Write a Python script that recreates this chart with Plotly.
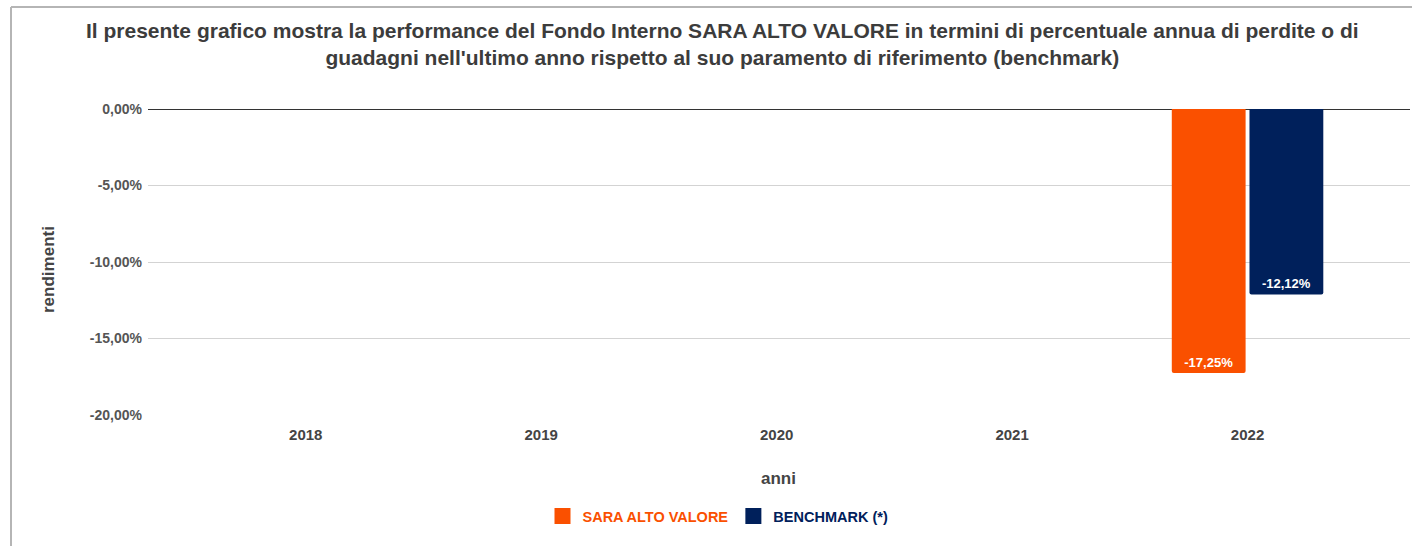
import plotly.graph_objects as go

years = ["2018", "2019", "2020", "2021", "2022"]
fund_values = [None, None, None, None, -0.1725]
bench_values = [None, None, None, None, -0.1212]
fund_name = "SARA ALTO VALORE"
bench_name = "BENCHMARK (*)"
y_tickvals = [0, -0.05, -0.10, -0.15, -0.20]
y_ticktext = ["0,00%", "-5,00%", "-10,00%", "-15,00%", "-20,00%"]

ORANGE = "#FA5000"
NAVY = "#00205B"
FONT = "Liberation Sans, Arial, sans-serif"

def fmt(v):
    if v is None:
        return ""
    return f"{v*100:.2f}%".replace(".", ",")

W, H = 1412, 546
L, R, T, B = 148, 2, 109, 131
pw, ph = W - L - R, H - T - B

def px(x):
    return (x - L) / pw

def py(y):
    return (H - B - y) / ph

fig = go.Figure()
for name, vals, col in [(fund_name, fund_values, ORANGE), (bench_name, bench_values, NAVY)]:
    fig.add_trace(go.Bar(
        x=years, y=vals, name=name, showlegend=False,
        marker=dict(color=col, line=dict(width=0)),
        text=[fmt(v) for v in vals], textposition="inside", insidetextanchor="end",
        textfont=dict(color="white", size=13, family=FONT), texttemplate="<b>%{text}</b>",
        constraintext="none", hoverinfo="skip",
    ))
# legend entries (square swatches, coloured labels)
for name, col in [(fund_name, ORANGE), (bench_name, NAVY)]:
    fig.add_trace(go.Scatter(
        x=[None], y=[None], mode="markers",
        name=f"<b><span style='color:{col}'>{name}</span></b>",
        marker=dict(symbol="square", size=16, color=col), hoverinfo="skip",
    ))

fig.update_layout(
    width=W, height=H,
    margin=dict(l=L, r=R, t=T, b=B, autoexpand=False),
    paper_bgcolor="white", plot_bgcolor="white",
    font=dict(family=FONT, color="#555555"),
    barmode="group", bargap=0.34, bargroupgap=0.05, barcornerradius=2,
    showlegend=True,
    legend=dict(orientation="h", x=px(718), xanchor="center", y=py(516), yanchor="middle",
                font=dict(size=14.5, family=FONT), itemsizing="trace",
                traceorder="normal", itemwidth=30),
    xaxis=dict(type="category", range=[-0.67, 4.69], showgrid=False, showline=False,
               ticks="", tickfont=dict(size=15, color="#444444", family=FONT, weight="bold"),
               ticklabelstandoff=9, zeroline=False),
    yaxis=dict(range=[-0.20, 0.0], tickvals=y_tickvals, ticktext=y_ticktext,
               showgrid=True, gridcolor="#d3d3d3", gridwidth=1,
               zeroline=True, zerolinecolor="#333333", zerolinewidth=1.3,
               showline=False, ticks="", ticklabelstandoff=5,
               tickfont=dict(size=14, color="#555555", family=FONT, weight="bold")),
    annotations=[
        dict(text="<b>Il presente grafico mostra la performance del Fondo Interno SARA ALTO VALORE in termini di percentuale annua di perdite o di<br>guadagni nell'ultimo anno rispetto al suo paramento di riferimento (benchmark)</b>",
             xref="paper", yref="paper", x=px(722), y=py(44), xanchor="center", yanchor="middle",
             showarrow=False, font=dict(size=21, color="#3c3c3c", family=FONT), align="center"),
        dict(text="<b>rendimenti</b>", xref="paper", yref="paper", x=px(48), y=py(270),
             xanchor="center", yanchor="middle", textangle=-90, showarrow=False,
             font=dict(size=17, color="#444444", family=FONT)),
        dict(text="<b>anni</b>", xref="paper", yref="paper", x=px(778), y=py(478),
             xanchor="center", yanchor="middle", showarrow=False,
             font=dict(size=17, color="#444444", family=FONT)),
    ],
    shapes=[
        dict(type="line", xref="paper", yref="paper", x0=px(11), x1=px(11), y0=py(7), y1=py(580),
             line=dict(color="#b5b5b5", width=2)),
        dict(type="line", xref="paper", yref="paper", x0=px(11), x1=px(1440), y0=py(7), y1=py(7),
             line=dict(color="#b5b5b5", width=2)),
    ],
)

fig.write_html("out.html", config={"displayModeBar": False},
               post_script="document.body.style.margin='0';")
